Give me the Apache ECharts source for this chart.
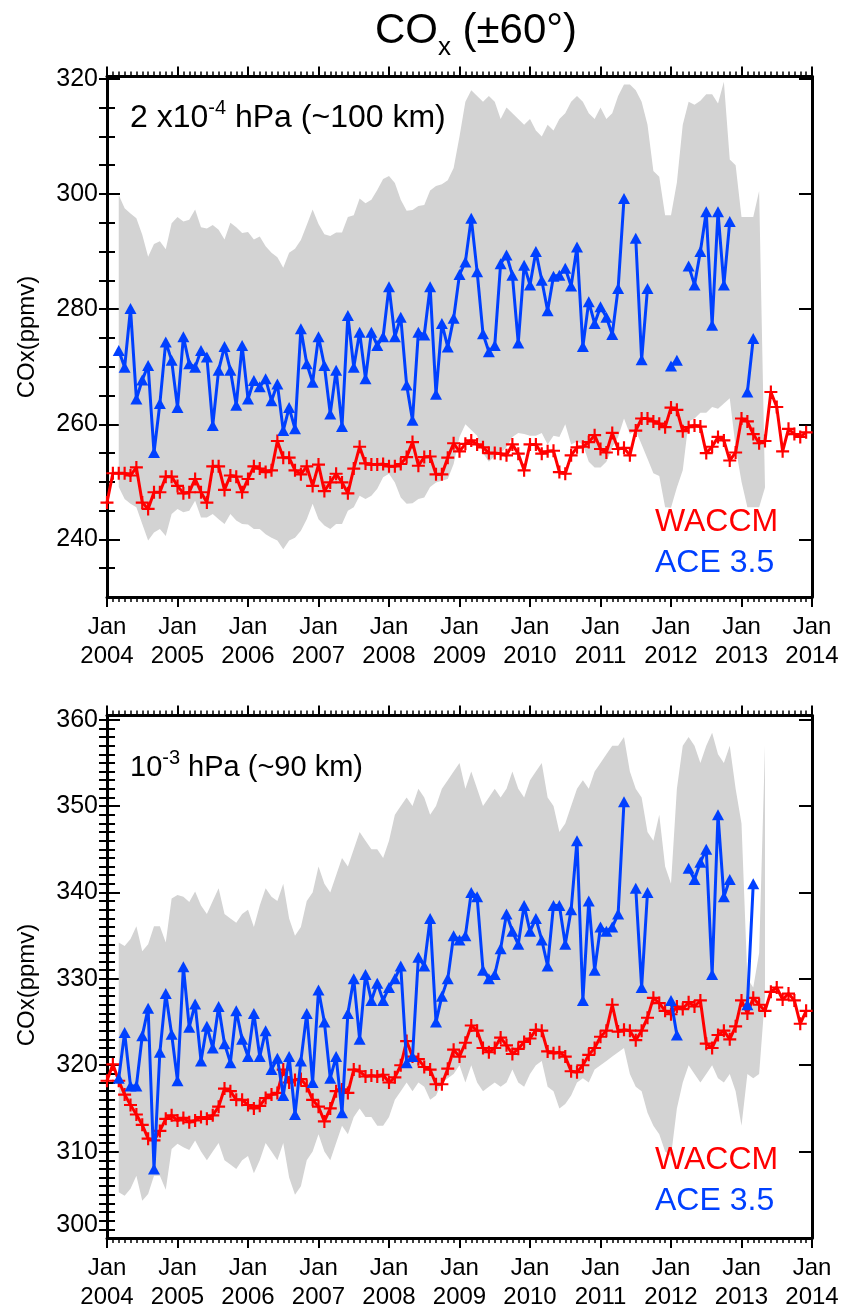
<!DOCTYPE html>
<html>
<head>
<meta charset="utf-8">
<script src="https://cdn.jsdelivr.net/npm/echarts@6/dist/echarts.min.js"></script>
<style>
  html, body { margin: 0; padding: 0; background: #fff; }
  #chart { width: 847px; height: 1312px; }
</style>
</head>
<body>
<div id="chart"></div>
<script>
// Monthly COx at +-60 deg, month index 0 = Jan 2004
const FIRST_YEAR = 2004;
const N_MONTHS = 120;

// ---- 2e-4 hPa (~100 km) ----
const waccmTopStart = 0;
const waccmTop = [
  246.4, 251.5, 251.5, 251.5, 251.1, 252.5, 246.4, 245.3, 248.2, 248.2,
  250.9, 250.9, 249.3, 248.0, 248.2, 250.5, 248.2, 246.4, 252.7, 252.7,
  248.6, 251.1, 250.9, 248.2, 250.5, 252.7, 252.3, 251.7, 252.0, 257.1,
  254.2, 254.2, 252.0, 251.3, 252.7, 249.3, 253.0, 248.4, 249.9, 251.4,
  249.9, 248.0, 252.3, 256.1, 253.2, 253.0, 253.0, 253.1, 252.7, 252.7,
  253.1, 254.3, 256.9, 252.8, 254.3, 254.4, 251.3, 251.3, 254.2, 256.7,
  255.3, 256.6, 257.2, 256.5, 256.0, 255.0, 255.0, 254.9, 254.6, 256.5,
  254.9, 252.0, 256.5, 256.5, 254.9, 255.3, 255.4, 251.7, 251.4, 254.6,
  256.0, 256.1, 256.9, 258.1, 255.7, 255.1, 258.5, 255.7, 255.9, 254.6,
  258.9, 261.0, 261.0, 260.5, 260.1, 259.5, 262.9, 262.5, 258.8, 259.5,
  259.8, 259.6, 255.0, 256.1, 257.8, 257.2, 253.7, 255.1, 261.0, 260.5,
  258.3, 256.7, 257.1, 265.6, 263.0, 255.3, 259.2, 258.3, 257.8, 258.6
];
const aceTopStart = 2;
const aceTop = [
  272.8, 269.9, 280.1, 264.4, 267.7, 270.2, 255.1, 263.6, 274.3, 271.1,
  262.9, 275.2, 270.5, 269.9, 272.8, 271.7, 259.8, 269.4, 273.5, 269.4,
  263.3, 273.7, 264.4, 267.6, 266.5, 267.9, 264.1, 267.0, 258.9, 262.9,
  259.2, 276.6, 270.5, 267.3, 275.2, 270.2, 261.8, 269.4, 259.6, 278.9,
  269.9, 276.0, 267.9, 276.0, 273.7, 275.2, 283.9, 275.2, 278.6, 266.8,
  260.7, 276.0, 275.5, 283.9, 265.2, 277.5, 273.4, 278.4, 286.0,
  288.2, 295.8, 286.5, 275.7, 272.6, 273.7, 287.9, 289.4, 285.9, 274.1,
  287.6, 284.2, 290.0, 285.0, 279.7, 285.7, 285.9, 287.1, 284.0, 290.8,
  273.5, 281.3, 277.5, 280.4, 278.6, 275.6, 283.6, 299.2, null, 292.3,
  271.2, 283.6, null, null, null, 270.1, 271.1, null, 287.5, 284.2,
  290.0, 296.9, 277.2, 296.9, 284.2, 295.2, null, null, 265.6, 274.9
];
const bandTopStart = 2;
const bandTopUpper = [
  299.8, 297.5, 296.6, 295.8, 292.9, 289.1, 291.3, 291.8, 290.4, 294.9,
  296.0, 295.2, 295.5, 297.3, 294.2, 294.0, 294.6, 293.8, 292.1, 295.0,
  294.2, 293.2, 293.4, 292.1, 292.6, 290.9, 289.8, 289.0, 287.2, 289.8,
  290.5, 292.0, 294.6, 297.3, 294.8, 293.0, 292.7, 293.3, 293.3, 296.0,
  296.3, 299.2, 298.4, 299.0, 300.7, 302.6, 303.1, 301.9, 299.0, 297.1,
  297.2, 297.9, 298.1, 300.6, 301.4, 301.7, 302.4,
  304.5, 310.0, 316.0, 318.0, 317.0, 316.0, 317.0, 316.0, 313.0, 315.0,
  314.0, 313.0, 312.0, 313.0, 311.0, 310.0, 312.0, 311.0, 313.0, 314.0,
  316.0, 317.0, 316.0, 314.0, 313.0, 315.0, 313.0, 314.0, 317.0, 319.0,
  319.0, 318.0, 316.0, 312.0, 304.0, 303.0, 296.3, 296.3, 302.0, 312.0,
  316.0, 315.5, 316.2, 317.3, 317.3, 315.7, 319.5, 306.0, 305.0, 296.0,
  296.0, 296.0, 300.5
];
const bandTopLower = [
  249.1, 247.0, 246.2, 245.6, 242.7, 239.8, 241.2, 241.8, 240.6, 244.4,
  245.3, 244.7, 245.0, 246.7, 243.8, 243.8, 244.4, 243.5, 242.7, 244.4,
  243.3, 242.7, 242.6, 241.8, 241.8, 240.9, 240.3, 239.8, 238.3, 239.8,
  240.3, 241.5, 243.5, 246.2, 243.5, 242.4, 241.8, 242.7, 242.7, 245.0,
  245.6, 247.6, 247.0, 247.6, 248.8, 250.8, 251.4, 249.9, 247.3, 246.2,
  246.3, 247.0, 247.3, 249.1, 249.9, 250.2, 250.5, 253.1, 257.8,
  260.0, 259.0, 258.0, 255.0, 253.5, 254.5, 255.0, 256.0, 257.8, 258.5,
  258.3, 258.0, 258.0, 258.5, 256.5, 258.0, 257.8, 260.0, 256.5, 257.0,
  256.5, 253.5, 252.5, 252.5, 253.5, 256.0, 257.8, 261.0, 258.3, 258.9,
  256.5, 254.0, 251.5, 251.0, 245.6, 245.5, 249.0, 252.0, 260.5, 261.0,
  262.0, 262.0, 263.0, 262.7, 263.6, 264.5, 256.0, 250.0, 245.6, 245.6,
  245.6, 249.0
];

// ---- 1e-3 hPa (~90 km) ----
const waccmBotStart = 0;
const waccmBot = [
  318.2, 320.1, 318.2, 316.6, 315.4, 314.3, 313.1, 311.5, 311.3, 312.4,
  313.8, 314.2, 313.6, 313.9, 313.4, 313.6, 314.0, 313.8, 314.2, 315.2,
  317.3, 317.0, 316.0, 316.0, 315.4, 315.0, 315.3, 316.2, 316.6, 316.8,
  319.5, 318.0, 318.3, 318.4, 317.6, 316.0, 315.2, 313.5, 315.0, 317.0,
  317.2, 316.8, 319.5, 319.3, 318.7, 318.8, 318.7, 318.9, 318.0, 318.6,
  320.0, 322.8, 321.0, 320.7, 319.8, 319.5, 317.8, 317.8, 319.6, 321.8,
  321.0, 322.6, 324.6, 324.0, 322.0, 321.5, 322.0, 323.2, 322.3, 321.3,
  321.9, 322.7, 323.1, 324.1, 324.0, 321.6, 321.4, 321.5, 321.0, 319.3,
  319.2, 320.0, 321.2, 322.0, 323.3, 324.0, 327.0, 323.9, 324.1, 324.0,
  322.9, 324.0, 325.5, 327.8, 327.2, 326.3, 325.9, 326.8, 326.5, 327.3,
  326.8, 327.5, 322.5, 322.0, 323.5, 324.0, 323.0, 324.5, 327.5, 326.0,
  327.8, 327.0, 326.3, 328.5, 329.0, 327.6, 328.3, 327.5, 324.8, 326.3
];
const aceBotStart = 2;
const aceBot = [
  318.5, 323.8, 317.6, 317.6, 323.4, 326.6, 308.0, 321.5, 328.3, 323.6,
  318.2, 331.4, 324.4, 327.1, 320.5, 324.5, 322.0, 326.8, 322.5, 320.3,
  326.3, 323.0, 321.0, 326.0, 321.0, 324.0, 319.5, 320.8, 316.5, 321.0,
  314.3, 320.5, 326.0, 318.0, 328.7, 325.0, 318.5, 321.0, 314.5, 326.0,
  330.0, 323.0, 330.5, 327.5, 329.5, 327.5, 329.0, 330.0, 331.5, 320.3,
  321.0, 332.5, 331.5, 337.0, 325.0, 328.0, 330.0, 335.0, 334.5, 335.0,
  340.0, 339.5, 331.0, 330.0, 330.5, 333.5, 337.5, 335.5, 334.0, 338.5,
  335.5, 337.0, 334.5, 331.5, 338.5, 338.5, 334.0, 338.0, 346.0, 327.5,
  339.0, 331.0, 336.0, 335.5, 336.0, 337.5, 350.5, null, 340.5, 329.0,
  340.0, null, null, null, 327.5, 323.5, null, 342.8, 341.5, 343.5,
  345.0, 330.5, 349.0, 339.5, 341.5, null, null, 327.0, 341.0
];
const bandBotStart = 2;
const bandBotUpper = [
  334.2, 333.8, 334.6, 336.1, 333.2, 334.0, 336.1, 336.1, 334.2, 339.3,
  339.7, 339.5, 338.9, 340.1, 338.5, 337.5, 339.0, 340.5, 337.5, 337.0,
  336.5, 337.5, 338.0, 336.0, 338.5, 340.5, 339.5, 339.0, 341.0, 337.0,
  335.0, 336.0, 339.0, 340.0, 343.0, 341.0, 340.0, 342.0, 344.0, 343.0,
  345.0, 347.0, 346.0, 345.0, 345.0, 344.0, 346.0, 349.0, 350.0, 351.0,
  350.0, 352.0, 351.0, 349.0, 350.0, 352.0, 353.0, 354.0, 355.0, 352.0,
  354.0, 352.0, 350.0, 351.0, 352.0, 351.0, 352.0, 354.0, 352.0, 351.0,
  353.0, 354.0, 355.0, 351.0, 350.0, 347.0, 348.0, 350.0, 352.0, 353.0,
  352.0, 354.0, 355.0, 356.0, 357.0, 357.0, 358.0, 354.0, 352.0, 351.0,
  347.0, 346.0, 349.0, 343.0, 341.0, 352.0, 357.0, 358.0, 357.0, 355.0,
  357.0, 358.5, 356.0, 355.0, 357.0, 352.0, 348.0, 330.0, 329.0, 333.0,
  357.0
];
const bandBotLower = [
  305.3, 304.9, 305.7, 307.2, 304.3, 305.1, 307.2, 307.2, 305.6, 310.3,
  310.9, 310.5, 310.2, 311.3, 310.0, 309.0, 310.0, 311.0, 309.0, 308.5,
  308.0, 309.0, 309.5, 307.5, 309.0, 311.0, 310.0, 309.0, 311.0, 307.0,
  305.0, 306.0, 309.0, 310.0, 312.0, 310.0, 309.0, 311.0, 313.0, 312.0,
  314.0, 315.0, 314.0, 314.0, 313.0, 313.0, 314.0, 316.0, 317.0, 318.0,
  317.0, 318.0, 317.5, 316.0, 316.5, 318.0, 318.5, 319.0, 320.0, 318.0,
  320.0, 318.0, 317.0, 317.5, 318.0, 317.5, 318.0, 319.5, 318.0, 317.5,
  319.0, 320.0, 320.5, 317.5, 317.0, 315.0, 315.5, 316.5, 318.0, 318.5,
  318.0, 319.5, 320.0, 320.5, 321.0, 321.5, 322.0, 319.0, 317.5, 317.0,
  314.5, 313.0, 312.0, 310.0, 309.5, 315.0, 318.0, 320.0, 319.0, 318.0,
  319.0, 320.0, 318.5, 318.0, 319.0, 317.0, 313.0, 319.0, 318.5, 319.0,
  328.0
];

// axis tick/label values
const topLabels = [240, 260, 280, 300, 320];
const topMinor = [235, 240, 245, 250, 255, 260, 265, 270, 275, 280, 285, 290, 295, 300, 305, 310, 315, 320];
const botLabels = [300, 310, 320, 330, 340, 350, 360];
const botMinor = [];
for (let v = 301; v <= 360; v++) botMinor.push(v);

const RED = '#ff0000';
const BLUE = '#0040ff';
const GRAY = '#d3d3d3';
const FONT = '"Liberation Sans", Arial, Helvetica, sans-serif';
const NARROW = '"Liberation Sans Narrow", "Liberation Sans", Arial, sans-serif';
const PLUS = 'path://M5,0H7V5H12V7H7V12H5V7H0V5H5Z';

function pairs(start, values) {
  return values.map((v, i) => [start + i, v == null ? '-' : v]);
}

function bandRenderer(start, upper, lower) {
  return function (params, api) {
    if (params.dataIndex !== 0) return null;
    const pts = [];
    for (let i = 0; i < upper.length; i++) pts.push(api.coord([start + i, upper[i]]));
    for (let i = lower.length - 1; i >= 0; i--) pts.push(api.coord([start + i, lower[i]]));
    return { type: 'polygon', shape: { points: pts }, style: { fill: GRAY }, silent: true };
  };
}

function xAxes(gridIndex) {
  const base = {
    gridIndex, type: 'value', min: 0, max: N_MONTHS, interval: 12,
    axisLine: { show: true, onZero: false, lineStyle: { color: '#000', width: 3 } },
    axisTick: { show: true, inside: false, length: 10, lineStyle: { color: '#000', width: 2 } },
    minorTick: { show: true, splitNumber: 12, length: 5, lineStyle: { color: '#000', width: 1.5 } },
    splitLine: { show: false }, minorSplitLine: { show: false }
  };
  return [
    Object.assign({}, base, {
      position: 'bottom',
      axisLabel: {
        color: '#000', fontFamily: NARROW, fontSize: 24, lineHeight: 29, margin: 16,
        formatter: v => 'Jan\n' + (FIRST_YEAR + v / 12)
      }
    }),
    Object.assign({}, base, { position: 'top', axisLabel: { show: false } })
  ];
}

function yAxes(gridIndex, min, max, labels, minor, extraLabel) {
  const common = { gridIndex, type: 'value', min, max, splitLine: { show: false } };
  const tickStyle = { color: '#000', width: 2 };
  const out = [];
  ['left', 'right'].forEach(pos => {
    out.push(Object.assign({}, common, {
      position: pos,
      axisLine: { show: true, onZero: false, lineStyle: { color: '#000', width: 3 } },
      axisTick: { show: true, inside: true, length: 13, customValues: labels, lineStyle: tickStyle },
      axisLabel: pos === 'left'
        ? Object.assign({ show: true, customValues: labels, color: '#000', fontFamily: FONT, fontSize: 25, margin: 9 }, extraLabel)
        : { show: false }
    }));
    out.push(Object.assign({}, common, {
      position: pos,
      axisLine: { show: false },
      axisTick: { show: true, inside: true, length: 8, customValues: minor, lineStyle: tickStyle },
      axisLabel: { show: false }
    }));
  });
  return out;
}

function panelSeries(xi, yi, bandStart, up, lo, wStart, w, aStart, a) {
  return [
    {
      type: 'custom', xAxisIndex: xi, yAxisIndex: yi, z: 1, silent: true,
      data: [[bandStart, lo[0]]],
      renderItem: bandRenderer(bandStart, up, lo)
    },
    {
      type: 'line', xAxisIndex: xi, yAxisIndex: yi, z: 3, name: 'WACCM',
      data: pairs(wStart, w), connectNulls: false,
      symbol: PLUS, symbolSize: 13, showSymbol: true,
      lineStyle: { color: RED, width: 3 }, itemStyle: { color: RED }
    },
    {
      type: 'line', xAxisIndex: xi, yAxisIndex: yi, z: 4, name: 'ACE 3.5',
      data: pairs(aStart, a), connectNulls: false,
      symbol: 'triangle', symbolSize: [12, 11], showSymbol: true,
      lineStyle: { color: BLUE, width: 3 }, itemStyle: { color: BLUE }
    }
  ];
}

const panelText = (x, y, size, base, sup, rest) => ({
  type: 'text', x, y, z: 10,
  style: {
    text: '{m|' + base + '}{s|' + sup + '}{m|' + rest + '}',
    align: 'left', verticalAlign: 'middle',
    rich: {
      m: { fontSize: size, fontFamily: FONT, lineHeight: 40, fill: '#000' },
      s: { fontSize: 20, fontFamily: FONT, lineHeight: 16, verticalAlign: 'top', fill: '#000' }
    }
  }
});
const plainText = (x, y, text, color, size, extra) => ({
  type: 'text', x, y, z: 10,
  style: Object.assign({ text, fill: color, fontSize: size, fontFamily: FONT, align: 'left', verticalAlign: 'middle' }, extra || {})
});

const option = {
  animation: false,
  backgroundColor: '#fff',
  grid: [
    { left: 107, top: 76.5, width: 705, height: 520.5 },
    { left: 107, top: 715.4, width: 705, height: 527.6 }
  ],
  xAxis: xAxes(0).concat(xAxes(1)),
  yAxis: yAxes(0, 230, 320.4, topLabels, topMinor, {})
    .concat(yAxes(1, 300, 360.5, botLabels, botMinor, { verticalAlignMinLabel: 'bottom' })),
  series: panelSeries(0, 0, bandTopStart, bandTopUpper, bandTopLower, waccmTopStart, waccmTop, aceTopStart, aceTop)
    .concat(panelSeries(2, 4, bandBotStart, bandBotUpper, bandBotLower, waccmBotStart, waccmBot, aceBotStart, aceBot)),
  graphic: [
    {
      type: 'text', x: 476, y: 31, z: 10,
      style: {
        text: '{a|CO}{b|x}{a| (±60°)}', align: 'center', verticalAlign: 'middle',
        rich: {
          a: { fontSize: 42, fontFamily: NARROW, lineHeight: 60, fill: '#000' },
          b: { fontSize: 26, fontFamily: NARROW, lineHeight: 14, verticalAlign: 'bottom', fill: '#000' }
        }
      }
    },
    panelText(130, 118, 32, '2 x10', '-4', ' hPa (~100 km)'),
    panelText(130, 768, 29, '10', '-3', ' hPa (~90 km)'),
    plainText(655, 522, 'WACCM', RED, 32),
    plainText(655, 563, 'ACE 3.5', BLUE, 32),
    plainText(655, 1160, 'WACCM', RED, 32),
    plainText(655, 1201, 'ACE 3.5', BLUE, 32),
    plainText(27, 337, 'COx(ppmv)', '#000', 24, { align: 'center' }),
    plainText(27, 985, 'COx(ppmv)', '#000', 24, { align: 'center' })
  ]
};
option.graphic[7].rotation = Math.PI / 2;
option.graphic[8].rotation = Math.PI / 2;

const chart = echarts.init(document.getElementById('chart'), null, { renderer: 'canvas' });
chart.setOption(option);
</script>
</body>
</html>
